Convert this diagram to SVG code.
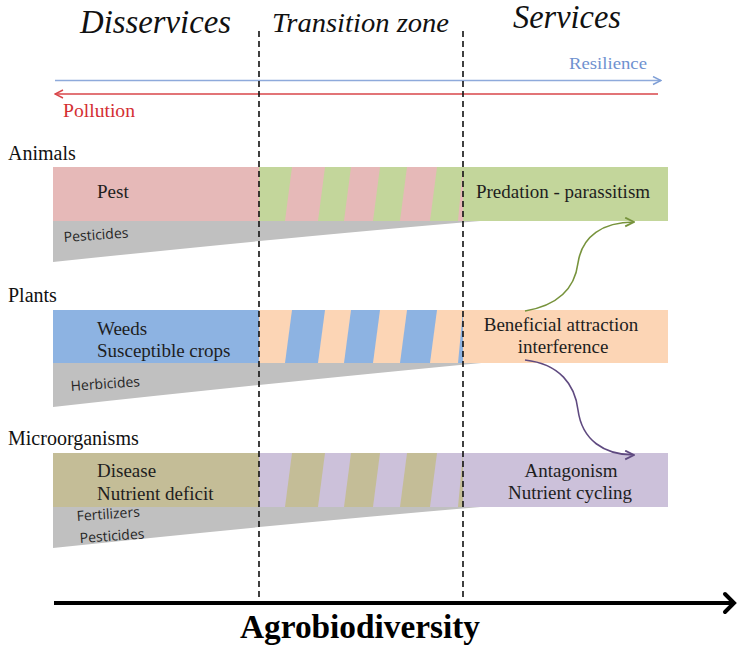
<svg xmlns="http://www.w3.org/2000/svg" xmlns:xlink="http://www.w3.org/1999/xlink" width="738" height="649" viewBox="0 0 738 649">
  <style>
    .serif { font-family: "Liberation Serif", "Times New Roman", serif; fill: #1a1a1a; }
    .title { font-family: "Liberation Serif", "Times New Roman", serif; font-style: italic; fill: #111; }
    .band { font-family: "Liberation Serif", "Times New Roman", serif; font-size: 19px; fill: #1e1e1e; }
    .group { font-family: "Liberation Serif", "Times New Roman", serif; font-size: 20px; fill: #111; }
    .chem { font-family: "Open Sans", "Liberation Sans", sans-serif; font-size: 14px; fill: #262626; }
    .wedge { fill: #c0c0c0; }
    .dash { stroke: #111; stroke-width: 1.6; stroke-dasharray: 6 4; fill: none; }
  </style>
  <defs>
    <!-- slanted stripes of the transition zone, one band tall -->
    <g id="stripes">
      <polygon points="259,0 292,0 285,54 259,54"/>
      <polygon points="325,0 351,0 344,54 318,54"/>
      <polygon points="380,0 407,0 400,54 373,54"/>
      <polygon points="437,0 463,0 458,54 430,54"/>
    </g>
    <marker id="openBlue" viewBox="0 0 10 10" refX="9" refY="5" markerWidth="10" markerHeight="10" markerUnits="userSpaceOnUse" orient="auto">
      <polyline points="1,1 9,5 1,9" fill="none" stroke="#7f9fd6" stroke-width="1.4"/>
    </marker>
    <marker id="openRed" viewBox="0 0 10 10" refX="9" refY="5" markerWidth="10" markerHeight="10" markerUnits="userSpaceOnUse" orient="auto">
      <polyline points="1,1 9,5 1,9" fill="none" stroke="#d9464a" stroke-width="1.4"/>
    </marker>
    <marker id="openGreen" viewBox="0 0 10 10" refX="9" refY="5" markerWidth="11" markerHeight="11" markerUnits="userSpaceOnUse" orient="auto">
      <polyline points="1,1 9,5 1,9" fill="none" stroke="#77933c" stroke-width="1.6"/>
    </marker>
    <marker id="openPurple" viewBox="0 0 10 10" refX="9" refY="5" markerWidth="11" markerHeight="11" markerUnits="userSpaceOnUse" orient="auto">
      <polyline points="1,1 9,5 1,9" fill="none" stroke="#5f4a80" stroke-width="1.6"/>
    </marker>
  </defs>

  <rect width="738" height="649" fill="#ffffff"/>

  <!-- zone headings -->
  <g id="headings">
    <text class="title" x="80" y="33" font-size="33" textLength="151" lengthAdjust="spacingAndGlyphs">Disservices</text>
    <text class="title" x="272" y="32" font-size="28" textLength="177" lengthAdjust="spacingAndGlyphs">Transition zone</text>
    <text class="title" x="513" y="28" font-size="33" textLength="108" lengthAdjust="spacingAndGlyphs">Services</text>
  </g>

  <!-- resilience / pollution gradient -->
  <g id="gradient">
    <line x1="55" y1="80.5" x2="661" y2="80.5" stroke="#8eaadb" stroke-width="1.5" marker-end="url(#openBlue)"/>
    <line x1="658" y1="94" x2="55" y2="94" stroke="#d9464a" stroke-width="1.5" marker-end="url(#openRed)"/>
    <text class="serif" x="569" y="69" font-size="17" style="fill:#6f91cf" textLength="78" lengthAdjust="spacingAndGlyphs">Resilience</text>
    <text class="serif" x="63" y="117" font-size="18" style="fill:#d42f33" textLength="72" lengthAdjust="spacingAndGlyphs">Pollution</text>
  </g>

  <!-- Animals -->
  <g id="animals">
    <text class="group" x="8" y="160">Animals</text>
    <path class="wedge" d="M53,220 L492,220 Q300,236 53,262 Z"/>
    <rect x="53" y="167" width="410" height="54" fill="#e6b9b8"/>
    <use xlink:href="#stripes" transform="translate(0,167)" fill="#c3d69b"/>
    <rect x="463" y="167" width="205" height="54" fill="#c3d69b"/>
    <text class="band" x="97" y="198">Pest</text>
    <text class="band" x="563" y="198" text-anchor="middle">Predation - parassitism</text>
    <text class="chem" x="64" y="242" transform="rotate(-4 64 242)">Pesticides</text>
  </g>

  <!-- Plants -->
  <g id="plants">
    <text class="group" x="8" y="302">Plants</text>
    <path class="wedge" d="M53,362 L492,362 Q300,380 53,407 Z"/>
    <rect x="53" y="310" width="410" height="53" fill="#8db3e2"/>
    <use xlink:href="#stripes" transform="translate(0,310) scale(1,0.98)" fill="#fcd5b5"/>
    <rect x="463" y="310" width="205" height="53" fill="#fcd5b5"/>
    <text class="band" x="97" y="335">Weeds</text>
    <text class="band" x="97" y="357">Susceptible crops</text>
    <text class="band" x="561" y="331" text-anchor="middle">Beneficial attraction</text>
    <text class="band" x="563" y="353" text-anchor="middle">interference</text>
    <text class="chem" x="71" y="391" transform="rotate(-4 71 391)">Herbicides</text>
  </g>

  <!-- Microorganisms -->
  <g id="microorganisms">
    <text class="group" x="8" y="445">Microorganisms</text>
    <path class="wedge" d="M53,506 L492,506 Q300,522 53,548 Z"/>
    <rect x="53" y="453" width="410" height="54" fill="#c4bd97"/>
    <use xlink:href="#stripes" transform="translate(0,453)" fill="#ccc1da"/>
    <rect x="463" y="453" width="205" height="54" fill="#ccc1da"/>
    <text class="band" x="97" y="477">Disease</text>
    <text class="band" x="97" y="500">Nutrient deficit</text>
    <text class="band" x="571" y="477" text-anchor="middle">Antagonism</text>
    <text class="band" x="570" y="499" text-anchor="middle">Nutrient cycling</text>
    <text class="chem" x="77" y="521" transform="rotate(-4 77 521)">Fertilizers</text>
    <text class="chem" x="80" y="543" transform="rotate(-4 80 543)">Pesticides</text>
  </g>

  <!-- connectors -->
  <g id="connectors">
    <line class="dash" x1="259" y1="31" x2="259" y2="603"/>
    <line class="dash" x1="463" y1="31" x2="463" y2="603"/>
    <path d="M525,311 C560,305 575,287 578,263 C582,236 603,222 634,222" fill="none" stroke="#77933c" stroke-width="1.6" marker-end="url(#openGreen)"/>
    <path d="M525,360 C560,364 575,385 578,410 C582,440 604,455 634,455" fill="none" stroke="#5f4a80" stroke-width="1.6" marker-end="url(#openPurple)"/>
    <line x1="54" y1="603" x2="733" y2="603" stroke="#000" stroke-width="4"/>
    <polyline points="725,594 734,603 725,612" fill="none" stroke="#000" stroke-width="4" stroke-linecap="round"/>
  </g>

  <text class="serif" x="240" y="638" font-size="33" font-weight="bold" textLength="240" lengthAdjust="spacingAndGlyphs" style="fill:#000">Agrobiodiversity</text>
</svg>
